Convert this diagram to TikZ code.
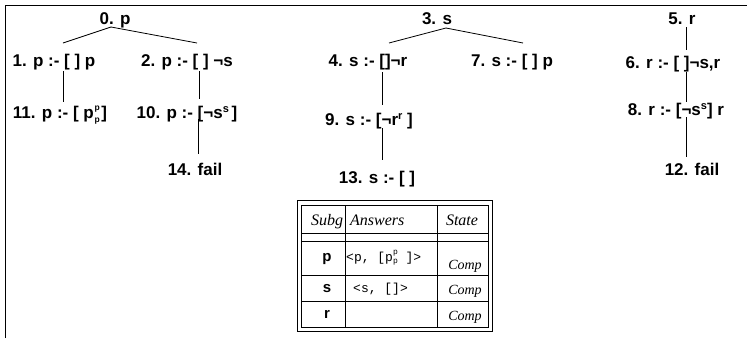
\documentclass[tikz,border=0pt]{standalone}
\usepackage{fontspec}
\newfontfamily\hvfont{Liberation Sans}
\newfontfamily\tmfont{Liberation Serif}
\newfontfamily\mofont{Liberation Mono}
\newcommand\tsup[1]{\raisebox{0.6ex}{\fontsize{11}{11}\selectfont #1}}
\newcommand\tsupsub[2]{\kern0.8pt\raisebox{-4pt}{\vbox{\fontsize{8.5}{11.5}\selectfont\hbox{#1}\hbox{#2}}}\kern1.5pt}
\newcommand\msupsub[2]{\raisebox{-2.5pt}{\vbox{\fontsize{8}{9.5}\selectfont\hbox{#1}\hbox{#2}}}}
\tikzset{
  lbl/.style={font=\hvfont\bfseries\fontsize{17}{20}\selectfont, inner sep=0pt, anchor=base},
  edge/.style={line width=0.8pt},
  hdr/.style={font=\tmfont\itshape\fontsize{16}{18}\selectfont, inner sep=0pt},
  subg/.style={font=\hvfont\bfseries\fontsize{15}{18}\selectfont, inner sep=0pt, anchor=base},
  ans/.style={font=\mofont\fontsize{13}{15}\selectfont, inner sep=0pt, anchor=base west},
  comp/.style={font=\tmfont\itshape\fontsize{14}{16}\selectfont, inner sep=0pt, anchor=base},
}
\begin{document}
\begin{tikzpicture}[x=1pt,y=-1pt]
\useasboundingbox (0,0) rectangle (747,338);
\fill[white] (0,0) rectangle (747,338);
% outer frame
\draw[line width=1pt] (5,338) -- (5,5) -- (747,5);

% tree p
\node[lbl] (n0) at (115,24) {0. p};
\node[lbl] (n1) at (54,66) {1. p :- [ ] p};
\node[lbl] (n2) at (187,66) {2. p :- [ ] ¬s};
\node[lbl] (n11) at (60,118) {11. p :- [ p\tsupsub{p}{p}]};
\node[lbl] (n10) at (187,118) {10. p :- [¬s\tsup{s}\,]};
\node[lbl] (n14) at (195,175) {14. fail};
\draw[edge] ([shift={(-4,3)}]n0.base) -- ([shift={(9,-23)}]n1.base);
\draw[edge] ([shift={(-4,3)}]n0.base) -- ([shift={(10,-23)}]n2.base);
\draw[edge] ([shift={(9,5)}]n1.base) -- ([shift={(3,-16)}]n11.base);
\draw[edge] ([shift={(12,5)}]n2.base) -- ([shift={(12,-19)}]n10.base);
\draw[edge] ([shift={(11,1)}]n10.base) -- ([shift={(3,-21)}]n14.base);

% tree s
\node[lbl] (n3) at (437,24) {3. s};
\node[lbl] (n4) at (368,66) {4. s :- []¬r};
\node[lbl] (n7) at (512,66) {7. s :- [ ] p};
\node[lbl] (n9) at (369,125) {9. s :- [¬r\tsup{r} ]};
\node[lbl] (n13) at (377,183) {13. s :- [ ]};
\draw[edge] ([shift={(9,4)}]n3.base) -- ([shift={(21,-23)}]n4.base);
\draw[edge] ([shift={(9,4)}]n3.base) -- ([shift={(11,-23)}]n7.base);
\draw[edge] ([shift={(14,6)}]n4.base) -- ([shift={(13,-20)}]n9.base);
\draw[edge] ([shift={(13,3)}]n9.base) -- ([shift={(5,-23)}]n13.base);

% tree r
\node[lbl] (n5) at (682,24) {5. r};
\node[lbl] (n6) at (673,68) {6. r :- [ ]¬s,r};
\node[lbl] (n8) at (676,115) {8. r :- [¬s\tsup{s}] r};
\node[lbl] (n12) at (692,175) {12. fail};
\draw[edge] ([shift={(4,3)}]n5.base) -- ([shift={(13,-18)}]n6.base);
\draw[edge] ([shift={(13,4)}]n6.base) -- ([shift={(10,-13)}]n8.base);
\draw[edge] ([shift={(10,2)}]n8.base) -- ([shift={(-6,-18)}]n12.base);

% table
\draw[line width=0.9pt] (297,200) rectangle (492,331);
\draw[line width=0.6pt] (301,205) rectangle (488,327);
\draw[line width=0.6pt] (345,205) -- (345,327);
\draw[line width=0.6pt] (437,205) -- (437,327);
\draw[line width=0.6pt] (301,233) -- (488,233);
\draw[line width=0.6pt] (301,241) -- (488,241);
\draw[line width=0.6pt] (301,275) -- (488,275);
\draw[line width=0.6pt] (301,301) -- (488,301);

\node[hdr, anchor=base] (hs) at (327,225) {Subg};
\node[hdr, anchor=base west] (ha) at (350,225) {Answers};
\node[hdr, anchor=base] (ht) at (462,225) {State};

\node[subg] (rp) at (327,261) {p};
\node[ans] (ap) at (346,261) {<p, [p\msupsub{p}{p} ]>};
\node[comp] (cp) at (465,269) {Comp};

\node[subg] (rs) at (327,292) {s};
\node[ans] (as) at (353,292) {<s, []>};
\node[comp] (cs) at (465,294) {Comp};

\node[subg] (rr) at (327,318) {r};
\node[comp] (cr) at (465,320) {Comp};
\end{tikzpicture}
\end{document}
